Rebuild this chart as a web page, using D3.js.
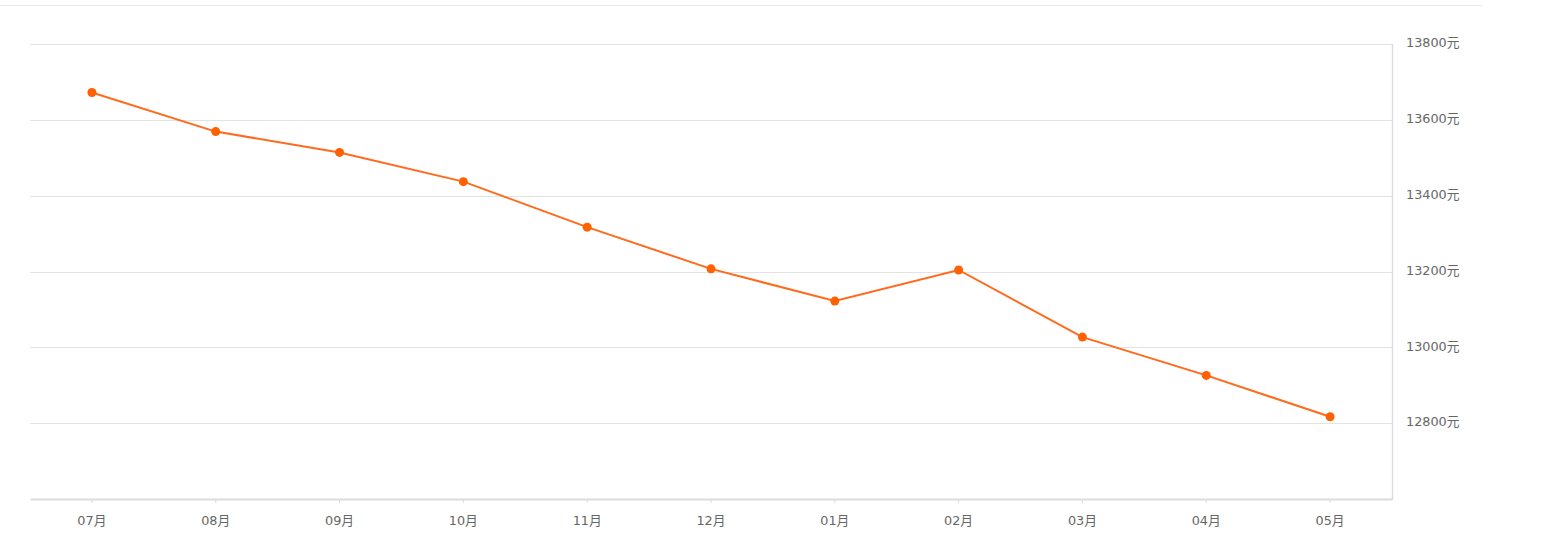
<!DOCTYPE html>
<html><head><meta charset="utf-8">
<script src="https://cdn.jsdelivr.net/npm/d3@7"></script>
<style>html,body{margin:0;padding:0;background:#fff;}svg{display:block;}</style>
</head><body>
<script>
const categories = ["07月","08月","09月","10月","11月","12月","01月","02月","03月","04月","05月"];
const values = [13672,13569,13514,13437,13317,13207,13122,13204,13027,12926,12817];
const yTicks = [12800,13000,13200,13400,13600,13800];
const yUnit = "元";

const W = 1567, H = 535;
const mLeft = 30, mRight = 1392, mTop = 44, mBottom = 499;
const FONT = "DejaVu Sans, Noto Sans CJK SC, sans-serif";
const svg = d3.select("body").append("svg").attr("width", W).attr("height", H);

const x = d3.scaleBand().domain(categories).range([mLeft, mRight]).padding(0);
const y = d3.scaleLinear().domain([12600, 13800]).range([mBottom, mTop]);

// faint top line
svg.append("line").attr("x1", 0).attr("x2", 1482).attr("y1", 5.5).attr("y2", 5.5)
  .attr("stroke", "#ececec").attr("stroke-width", 1);

// gridlines
svg.append("g").selectAll("line").data(yTicks).join("line")
  .attr("x1", mLeft).attr("x2", mRight)
  .attr("y1", d => Math.round(y(d)) + 0.5).attr("y2", d => Math.round(y(d)) + 0.5)
  .attr("stroke", "#e3e3e3").attr("stroke-width", 1);

// right border
svg.append("line").attr("x1", mRight + 0.5).attr("x2", mRight + 0.5)
  .attr("y1", y(13800)).attr("y2", mBottom + 1)
  .attr("stroke", "#dddddd").attr("stroke-width", 1.5);

// right axis labels
svg.append("g").selectAll("text").data(yTicks).join("text")
  .attr("x", mRight + 14).attr("y", d => y(d)).attr("dy", "0.25em")
  .attr("font-family", FONT)
  .attr("font-size", 12.8).attr("fill", "#666")
  .text(d => d + yUnit);

// bottom axis
const xAxis = svg.append("g").attr("transform", `translate(0,${mBottom})`)
  .call(d3.axisBottom(x).tickSize(4).tickSizeOuter(0).tickPadding(13));
xAxis.select(".domain").attr("stroke", "#dcdcdc").attr("stroke-width", 2);
xAxis.selectAll(".tick line").attr("stroke", "#dcdcdc");
xAxis.selectAll(".tick text")
  .attr("font-family", FONT)
  .attr("font-size", 12.8).attr("fill", "#666");

const cx = d => x(d) + x.bandwidth() / 2;
const data = categories.map((c, i) => ({c, v: values[i]}));

svg.append("path").datum(data)
  .attr("fill", "none").attr("stroke", "#ff6a1c").attr("stroke-width", 2)
  .attr("d", d3.line().x(d => cx(d.c)).y(d => y(d.v)));

svg.append("g").selectAll("circle").data(data).join("circle")
  .attr("cx", d => cx(d.c)).attr("cy", d => y(d.v)).attr("r", 4.5)
  .attr("fill", "#ff6000");
</script>
</body></html>
